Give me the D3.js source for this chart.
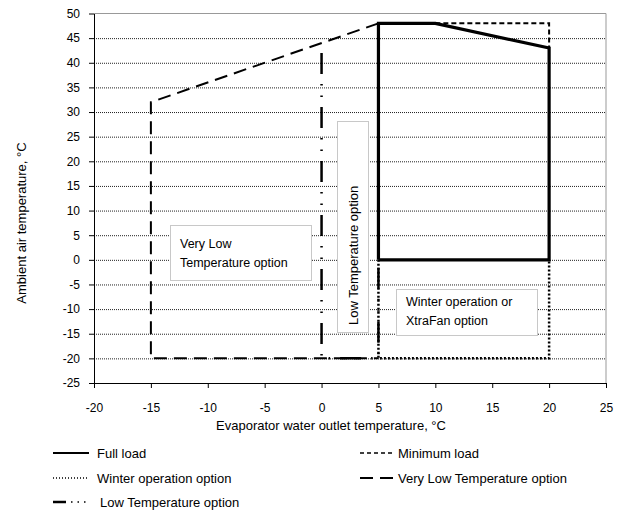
<!DOCTYPE html>
<html>
<head>
<meta charset="utf-8">
<script src="https://cdn.jsdelivr.net/npm/d3@7"></script>
<style>
  body { margin: 0; background: #fff; }
  svg { font-family: "Liberation Sans", Arial, sans-serif; font-size: 13px; }
  .grid line { stroke: #222; stroke-width: 1; stroke-dasharray: 1,1; }
  .grid path { display: none; }
  .axis path, .axis line { stroke: #000; }
  .axis text { font-size: 12px; fill: #000; font-family: "Liberation Sans", Arial, sans-serif; }
  .note rect { fill: #fff; stroke: #c8c8c8; }
  .note text { font-size: 12.5px; }
</style>
</head>
<body>
<svg id="chart" width="624" height="511"></svg>
<script>
var xTicks = [-20, -15, -10, -5, 0, 5, 10, 15, 20, 25];
var yTicks = [50, 45, 40, 35, 30, 25, 20, 15, 10, 5, 0, -5, -10, -15, -20, -25];

var fullLoad = [[5, 0], [5, 48], [10, 48], [20, 43], [20, 0], [5, 0]];
var minimumLoad = [[10, 48], [20, 48], [20, 43]];
var winterOption = [[5, 0], [5, -20], [20, -20], [20, 0]];
var veryLowOption = [[5, 48], [-15, 32], [-15, -20], [5, -20]];
var lowOption = [[0, 42], [0, -20], [5, -20], [5, 0]];

var legendNames = ["Full load", "Minimum load", "Winter operation option",
                   "Very Low Temperature option", "Low Temperature option"];

var svg = d3.select("#chart"),
    margins = { top: 13.5, right: 18, bottom: 128, left: 94 },
    width = 624, height = 511;

var xRange = d3.scaleLinear().domain([-20, 25]).range([margins.left, width - margins.right]);
var yRange = d3.scaleLinear().domain([-25, 50]).range([height - margins.bottom, margins.top]);

function plain(d) { return String(d); }

// horizontal dotted grid
svg.append("g")
    .attr("class", "grid")
    .attr("transform", "translate(" + xRange(-20) + ",0)")
    .call(d3.axisLeft(yRange)
        .tickValues(yTicks.filter(function (v) { return v > -25 && v < 50; }))
        .tickSize(-(xRange(25) - xRange(-20)))
        .tickFormat(""));

// plot border top / right
svg.append("path")
    .attr("d", "M" + xRange(-20) + "," + yRange(50) + "H" + xRange(25) + "V" + yRange(-25))
    .attr("fill", "none")
    .attr("stroke", "#999");

svg.append("g")
    .attr("class", "x axis")
    .attr("transform", "translate(0," + yRange(-25) + ")")
    .call(d3.axisBottom(xRange).tickValues(xTicks).tickFormat(plain)
        .tickSize(5).tickSizeOuter(0).tickPadding(15));

svg.append("g")
    .attr("class", "y axis")
    .attr("transform", "translate(" + xRange(-20) + ",0)")
    .call(d3.axisLeft(yRange).tickValues(yTicks).tickFormat(plain)
        .tickSize(5).tickSizeOuter(0).tickPadding(9));

var lineFunc = d3.line()
    .x(function (d) { return xRange(d[0]); })
    .y(function (d) { return yRange(d[1]); });

var styles = [
    { data: fullLoad, width: 3.2, dash: null },
    { data: minimumLoad, width: 2, dash: "5,3" },
    { data: winterOption, width: 2.5, dash: "2,2" },
    { data: veryLowOption, width: 2, dash: "13,7" },
    { data: lowOption, width: 2.5, dash: "21,10,1.5,10,1.5,10" }
];

// draw dotted / dashed first, full load on top
[2, 3, 4, 1, 0].forEach(function (i) {
    var s = styles[i];
    svg.append("path")
        .attr("d", lineFunc(s.data))
        .attr("fill", "none")
        .attr("stroke", "#000")
        .attr("stroke-width", s.width)
        .attr("stroke-dasharray", s.dash)
        .attr("stroke-linejoin", "miter");
});

// note boxes
var n1 = svg.append("g").attr("class", "note");
n1.append("rect").attr("x", 170.5).attr("y", 225.5).attr("width", 141).attr("height", 55);
n1.append("text").attr("x", 180).attr("y", 248).text("Very Low");
n1.append("text").attr("x", 180).attr("y", 267).text("Temperature option");

var n2 = svg.append("g").attr("class", "note");
n2.append("rect").attr("x", 337.5).attr("y", 121.5).attr("width", 31).attr("height", 211);
n2.append("text").attr("transform", "translate(358,325) rotate(-90)")
    .style("font-size", "13px").text("Low Temperature option");

var n3 = svg.append("g").attr("class", "note");
n3.append("rect").attr("x", 396.5).attr("y", 289.5).attr("width", 141).attr("height", 46);
n3.append("text").attr("x", 406).attr("y", 306).text("Winter operation or");
n3.append("text").attr("x", 406).attr("y", 325).text("XtraFan option");

// axis titles
svg.append("text")
    .attr("text-anchor", "middle")
    .attr("x", 331)
    .attr("y", 430)
    .text("Evaporator water outlet temperature, \u00b0C");

svg.append("text")
    .attr("text-anchor", "middle")
    .attr("transform", "translate(26,223) rotate(-90)")
    .text("Ambient air temperature, \u00b0C");

// legend
var legendPos = [[53, 453], [360, 453], [53, 478], [360, 478], [53, 502]];
legendPos.forEach(function (p, i) {
    var g = svg.append("g");
    if (i === 4) {
        g.append("line").attr("x1", p[0]).attr("x2", p[0] + 13).attr("y1", p[1]).attr("y2", p[1])
            .attr("stroke", "#000").attr("stroke-width", 2.5);
        g.append("line").attr("x1", p[0] + 18).attr("x2", p[0] + 36).attr("y1", p[1]).attr("y2", p[1])
            .attr("stroke", "#000").attr("stroke-width", 1.5).attr("stroke-dasharray", "1.5,5");
    } else {
        g.append("line").attr("x1", p[0]).attr("x2", p[0] + (i % 2 ? 33 : 36)).attr("y1", p[1]).attr("y2", p[1])
            .attr("stroke", "#000")
            .attr("stroke-width", i === 0 ? 2 : (i === 2 ? 1.5 : (i === 3 ? 2 : 1.5)))
            .attr("stroke-dasharray", i === 1 ? "4,3" : (i === 2 ? "1,2" : (i === 3 ? "13,7" : null)));
    }
    var tx = i === 4 ? 47 : (i % 2 ? 38 : 44);
    g.append("text").attr("x", p[0] + tx).attr("y", p[1] + 5).text(legendNames[i]);
});
</script>
</body>
</html>
